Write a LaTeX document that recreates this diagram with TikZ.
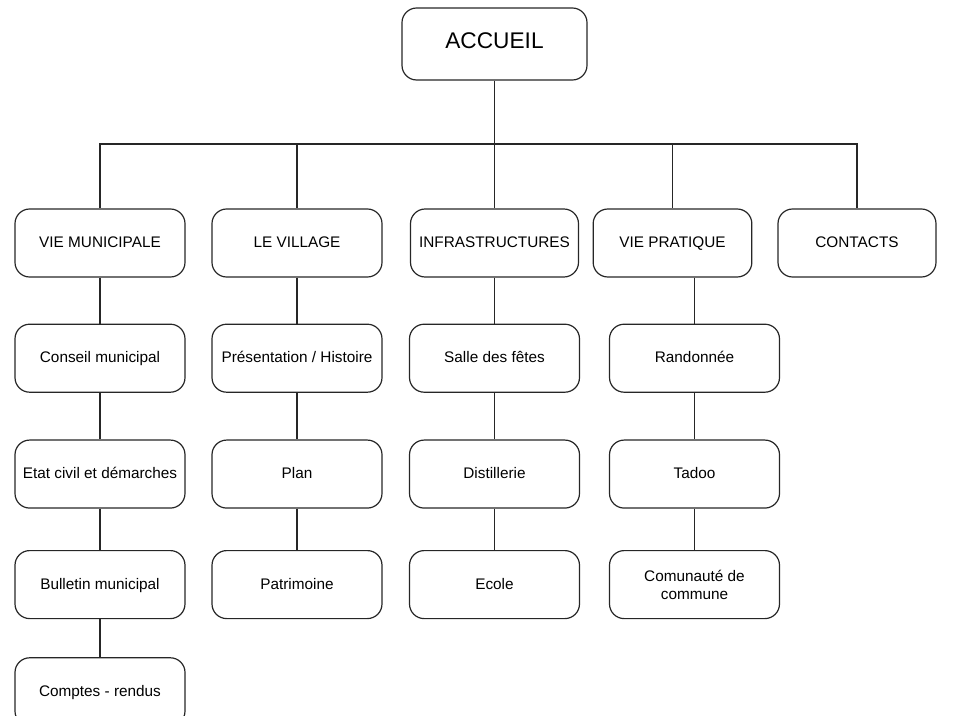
\documentclass[tikz,border=0pt]{standalone}
\usepackage{fontspec}
\setmainfont{Liberation Sans}
\usetikzlibrary{positioning}

\begin{document}
\begin{tikzpicture}[x=0.75pt,y=0.75pt,
  box/.style={draw=black!85, line width=0.9pt, rounded corners=11pt, minimum width=127.5pt, minimum height=51pt, inner sep=1pt, align=center, text height=0.72em, text depth=0pt, font=\fontsize{11.5}{13.5}\selectfont},
  link/.style={draw=black!85, line width=0.9pt}]
\useasboundingbox (0,0) rectangle (964,-716);
\node [box, minimum width=138.75pt, minimum height=54pt, font=\fontsize{17}{20}\selectfont] (acc) at (494.5,-44) {ACCUEIL};
\coordinate (bus) at (0,-144);
\node [box] (vm) at (100,-243) {VIE MUNICIPALE};
\node [box] (lv) at (297,-243) {LE VILLAGE};
\node [box, minimum width=126pt] (inf) at (494.5,-243) {INFRASTRUCTURES};
\node [box, minimum width=119pt] (vp) at (672.5,-243) {VIE PRATIQUE};
\node [box, minimum width=118.5pt] (co) at (857,-243) {CONTACTS};
\node [box, below=34.5pt of vm] (cm) {Conseil municipal};
\node [box, below=35pt of cm] (ec) {Etat civil et démarches};
\node [box, below=31pt of ec] (bm) {Bulletin municipal};
\node [box, below=28.5pt of bm] (cr) {Comptes - rendus};
\node [box, below=34.5pt of lv] (ph) {Présentation / Histoire};
\node [box, below=35pt of ph] (pl) {Plan};
\node [box, below=31pt of pl] (pa) {Patrimoine};
\node [box, below=34.5pt of inf] (sf) {Salle des fêtes};
\node [box, below=35pt of sf] (di) {Distillerie};
\node [box, below=31pt of di] (el) {Ecole};
\node [box, below=34.5pt of vp, xshift=16.5pt] (ra) {Randonnée};
\node [box, below=35pt of ra] (ta) {Tadoo};
\node [box, below=31pt of ta, text height={}, text depth={}] (cc) {Comunauté de\\commune};
\draw [link] (acc) -- (inf);
\draw [link] (vm.north) -- (vm.north |- bus) -- (co.north |- bus) -- (co.north);
\draw [link] (lv.north |- bus) -- (lv.north);
\draw [link] (vp.north |- bus) -- (vp.north);
\draw [link] (vm) -- (cm) -- (ec) -- (bm) -- (cr);
\draw [link] (lv) -- (ph) -- (pl) -- (pa);
\draw [link] (inf) -- (sf) -- (di) -- (el);
\draw [link] (vp.south -| ra.north) -- (ra.north);
\draw [link] (ra) -- (ta) -- (cc);
\end{tikzpicture}
\end{document}
